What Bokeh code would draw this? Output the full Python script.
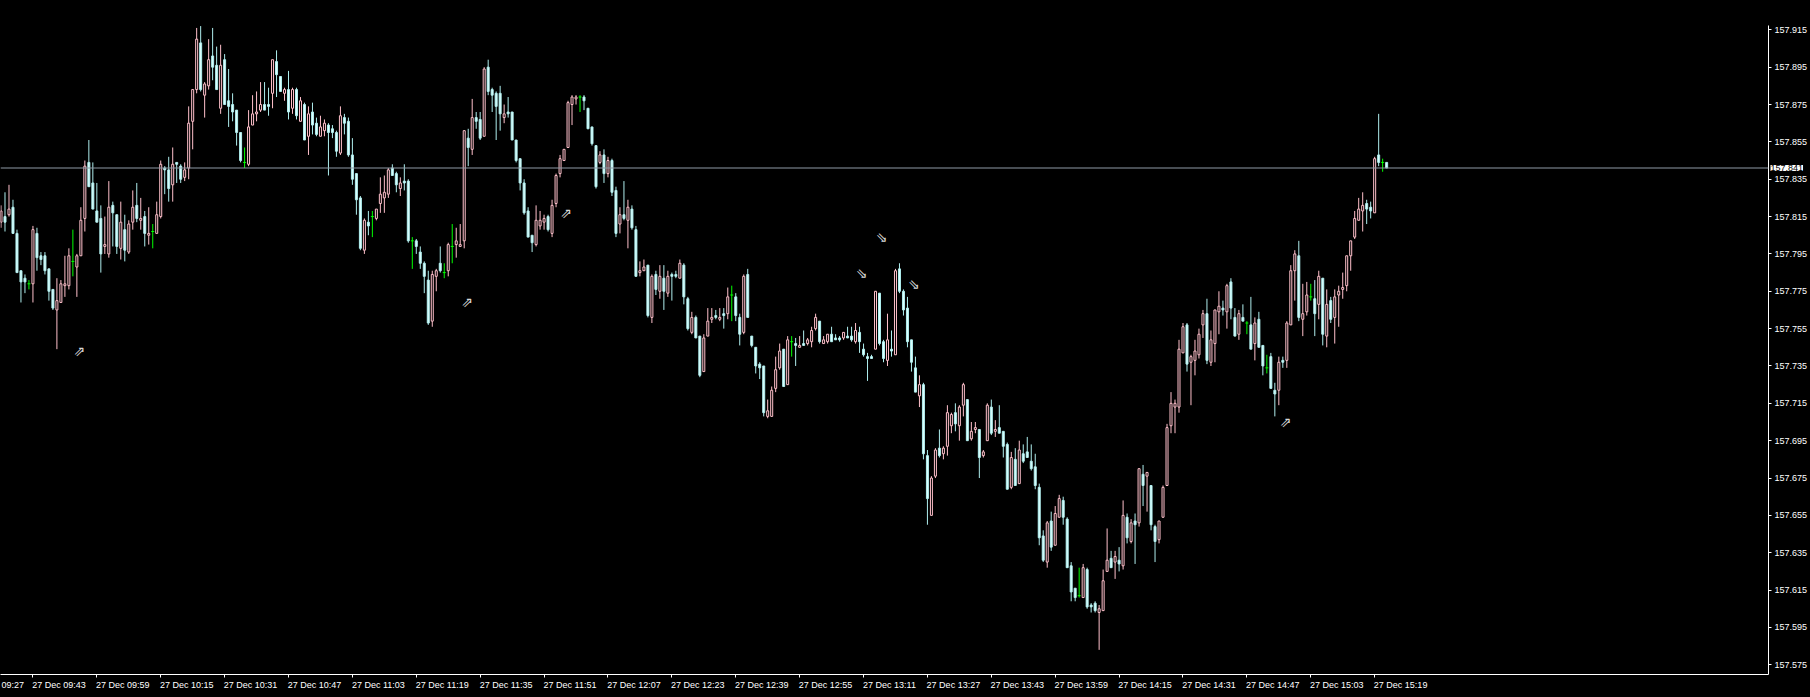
import numpy as np
from bokeh.plotting import figure
from bokeh.models import (ColumnDataSource, FixedTicker, Span, Label, NumeralTickFormatter,
                          Range1d, LinearAxis)
from bokeh.core.properties import value
from bokeh.embed import file_html
from bokeh.resources import INLINE

# ---------------- data (USDJPY M1, 27 Dec) ----------------
first_bar = "09:35"

open_ = [
    157.812, 157.815, 157.816, 157.820, 157.806, 157.786, 157.782, 157.779,
    157.779, 157.806, 157.794, 157.794, 157.787, 157.776, 157.765, 157.769, 157.778, 157.778, 157.791, 157.788,
    157.794, 157.814, 157.844, 157.833, 157.818, 157.814, 157.799, 157.795, 157.821, 157.816, 157.798, 157.808,
    157.796, 157.812, 157.821, 157.813, 157.815, 157.805, 157.807, 157.806, 157.815, 157.841, 157.840, 157.832,
    157.844, 157.842, 157.836, 157.841, 157.866, 157.883, 157.908, 157.880, 157.885, 157.901, 157.896, 157.873,
    157.899, 157.877, 157.875, 157.872, 157.860, 157.844, 157.843, 157.864, 157.870, 157.872, 157.875, 157.875,
    157.881, 157.898, 157.890, 157.881, 157.883, 157.873, 157.883, 157.866, 157.875, 157.858, 157.871, 157.865,
    157.858, 157.861, 157.864, 157.862, 157.860, 157.849, 157.868, 157.866, 157.848, 157.838, 157.825, 157.797,
    157.812, 157.815, 157.814, 157.822, 157.825, 157.827, 157.841, 157.838, 157.830, 157.834, 157.834, 157.802,
    157.802, 157.796, 157.790, 157.781, 157.759, 157.783, 157.790, 157.785, 157.786, 157.799, 157.800, 157.799,
    157.802, 157.857, 157.851, 157.868, 157.867, 157.858, 157.895, 157.883, 157.881, 157.881, 157.868, 157.871,
    157.871, 157.856, 157.846, 157.833, 157.818, 157.805, 157.800, 157.810, 157.812, 157.815, 157.806, 157.822,
    157.838, 157.845, 157.852, 157.875, 157.878, 157.879, 157.879, 157.873, 157.863, 157.853, 157.844, 157.848,
    157.838, 157.845, 157.829, 157.811, 157.816, 157.813, 157.819, 157.808, 157.785, 157.786, 157.789, 157.761,
    157.784, 157.775, 157.782, 157.774, 157.784, 157.784, 157.782, 157.789, 157.771, 157.753, 157.761, 157.751,
    157.732, 157.751, 157.760, 157.762, 157.760, 157.763, 157.763, 157.773, 157.772, 157.761, 157.753, 157.784,
    157.751, 157.745, 157.736, 157.735, 157.708, 157.708, 157.723, 157.734, 157.744, 157.725, 157.748, 157.747,
    157.745, 157.747, 157.747, 157.748, 157.755, 157.759, 157.747, 157.748, 157.752, 157.750, 157.750, 157.750,
    157.751, 157.751, 157.748, 157.753, 157.744, 157.740, 157.740, 157.744, 157.774, 157.748, 157.738, 157.744,
    157.741, 157.787, 157.775, 157.766, 157.749, 157.734, 157.719, 157.725, 157.687, 157.655, 157.676, 157.691,
    157.688, 157.692, 157.703, 157.710, 157.703, 157.714, 157.717, 157.696, 157.701, 157.701, 157.687, 157.695,
    157.713, 157.700, 157.702, 157.700, 157.693, 157.670, 157.685, 157.672, 157.688, 157.689, 157.684, 157.681,
    157.670, 157.644, 157.630, 157.652, 157.639, 157.654, 157.663, 157.653, 157.628, 157.616, 157.612, 157.611,
    157.626, 157.607, 157.608, 157.603, 157.604, 157.625, 157.632, 157.630, 157.631, 157.628, 157.654, 157.641,
    157.652, 157.651, 157.677, 157.676, 157.671, 157.649, 157.642, 157.654, 157.671, 157.703, 157.713, 157.713,
    157.742, 157.757, 157.737, 157.738, 157.741, 157.757, 157.763, 157.737, 157.747, 157.764, 157.766, 157.764,
    157.780, 157.761, 157.752, 157.761, 157.758, 157.757, 157.747, 157.760, 157.746, 157.734, 157.740, 157.722,
    157.722, 157.738, 157.738, 157.757, 157.786, 157.794, 157.760, 157.764, 157.772, 157.771, 157.768, 157.782,
    157.751, 157.770, 157.761, 157.773, 157.776, 157.778, 157.794, 157.804, 157.813, 157.818, 157.822, 157.820,
    157.817, 157.848, 157.844, 157.844,
]

high = [
    157.821, 157.828, 157.832, 157.824, 157.808, 157.786, 157.784, 157.781,
    157.810, 157.809, 157.796, 157.796, 157.787, 157.776, 157.782, 157.781, 157.794, 157.798, 157.808, 157.795,
    157.820, 157.845, 157.856, 157.844, 157.833, 157.821, 157.815, 157.834, 157.823, 157.816, 157.823, 157.816,
    157.813, 157.829, 157.833, 157.825, 157.818, 157.820, 157.811, 157.823, 157.845, 157.842, 157.847, 157.852,
    157.844, 157.843, 157.844, 157.874, 157.883, 157.916, 157.917, 157.887, 157.910, 157.916, 157.906, 157.907,
    157.902, 157.894, 157.881, 157.872, 157.860, 157.852, 157.872, 157.880, 157.882, 157.887, 157.887, 157.884,
    157.899, 157.904, 157.890, 157.884, 157.893, 157.884, 157.884, 157.879, 157.876, 157.874, 157.876, 157.868,
    157.869, 157.867, 157.865, 157.864, 157.861, 157.874, 157.870, 157.868, 157.857, 157.838, 157.826, 157.814,
    157.818, 157.818, 157.819, 157.836, 157.837, 157.841, 157.843, 157.839, 157.836, 157.843, 157.835, 157.804,
    157.803, 157.799, 157.791, 157.786, 157.786, 157.787, 157.799, 157.790, 157.801, 157.811, 157.809, 157.811,
    157.861, 157.862, 157.878, 157.871, 157.871, 157.895, 157.899, 157.884, 157.882, 157.885, 157.875, 157.879,
    157.871, 157.856, 157.846, 157.835, 157.820, 157.805, 157.821, 157.818, 157.816, 157.816, 157.824, 157.838,
    157.848, 157.851, 157.877, 157.880, 157.880, 157.880, 157.880, 157.873, 157.863, 157.853, 157.850, 157.851,
    157.847, 157.846, 157.831, 157.820, 157.834, 157.824, 157.821, 157.810, 157.791, 157.792, 157.789, 157.784,
    157.786, 157.789, 157.789, 157.786, 157.785, 157.786, 157.792, 157.790, 157.772, 157.764, 157.762, 157.751,
    157.752, 157.766, 157.766, 157.765, 157.766, 157.766, 157.777, 157.778, 157.774, 157.763, 157.784, 157.787,
    157.751, 157.745, 157.737, 157.735, 157.717, 157.724, 157.740, 157.747, 157.744, 157.751, 157.751, 157.750,
    157.751, 157.754, 157.750, 157.756, 157.763, 157.759, 157.751, 157.752, 157.756, 157.752, 157.751, 157.753,
    157.756, 157.756, 157.758, 157.756, 157.747, 157.742, 157.741, 157.775, 157.774, 157.749, 157.763, 157.754,
    157.787, 157.790, 157.776, 157.772, 157.749, 157.740, 157.730, 157.726, 157.690, 157.676, 157.691, 157.701,
    157.692, 157.714, 157.710, 157.715, 157.714, 157.726, 157.717, 157.705, 157.705, 157.701, 157.690, 157.715,
    157.717, 157.706, 157.714, 157.700, 157.694, 157.689, 157.691, 157.695, 157.693, 157.697, 157.693, 157.688,
    157.672, 157.647, 157.652, 157.657, 157.660, 157.666, 157.665, 157.654, 157.630, 157.616, 157.627, 157.629,
    157.627, 157.608, 157.609, 157.607, 157.626, 157.648, 157.636, 157.636, 157.638, 157.663, 157.656, 157.653,
    157.656, 157.680, 157.682, 157.678, 157.671, 157.650, 157.652, 157.671, 157.704, 157.721, 157.717, 157.749,
    157.758, 157.758, 157.741, 157.749, 157.755, 157.765, 157.771, 157.754, 157.765, 157.775, 157.770, 157.779,
    157.782, 157.766, 157.765, 157.768, 157.759, 157.772, 157.761, 157.764, 157.746, 157.741, 157.742, 157.726,
    157.740, 157.740, 157.759, 157.789, 157.797, 157.802, 157.779, 157.780, 157.779, 157.781, 157.786, 157.782,
    157.776, 157.772, 157.776, 157.778, 157.785, 157.794, 157.802, 157.818, 157.825, 157.828, 157.824, 157.823,
    157.847, 157.870, 157.846, 157.844,
]

low = [
    157.809, 157.807, 157.815, 157.806, 157.785, 157.769, 157.774, 157.776,
    157.769, 157.786, 157.789, 157.784, 157.770, 157.765, 157.744, 157.769, 157.772, 157.776, 157.783, 157.772,
    157.794, 157.807, 157.831, 157.819, 157.812, 157.785, 157.795, 157.793, 157.799, 157.795, 157.792, 157.791,
    157.795, 157.808, 157.812, 157.808, 157.799, 157.800, 157.798, 157.806, 157.814, 157.827, 157.823, 157.823,
    157.833, 157.833, 157.834, 157.835, 157.851, 157.881, 157.882, 157.868, 157.883, 157.888, 157.883, 157.870,
    157.875, 157.863, 157.866, 157.853, 157.844, 157.841, 157.842, 157.864, 157.866, 157.871, 157.872, 157.869,
    157.873, 157.879, 157.882, 157.877, 157.867, 157.870, 157.867, 157.866, 157.856, 157.848, 157.859, 157.858,
    157.858, 157.858, 157.837, 157.857, 157.847, 157.848, 157.859, 157.847, 157.832, 157.816, 157.797, 157.795,
    157.805, 157.804, 157.813, 157.817, 157.817, 157.825, 157.837, 157.828, 157.826, 157.829, 157.801, 157.787,
    157.795, 157.787, 157.774, 157.757, 157.756, 157.775, 157.785, 157.782, 157.783, 157.790, 157.793, 157.799,
    157.798, 157.842, 157.848, 157.862, 157.856, 157.858, 157.880, 157.871, 157.856, 157.861, 157.865, 157.868,
    157.856, 157.844, 157.829, 157.816, 157.804, 157.796, 157.799, 157.808, 157.808, 157.807, 157.804, 157.820,
    157.836, 157.845, 157.852, 157.864, 157.875, 157.871, 157.872, 157.862, 157.853, 157.830, 157.843, 157.833,
    157.836, 157.826, 157.804, 157.806, 157.813, 157.798, 157.808, 157.783, 157.783, 157.786, 157.761, 157.758,
    157.773, 157.771, 157.765, 157.772, 157.770, 157.782, 157.782, 157.768, 157.754, 157.752, 157.750, 157.729,
    157.732, 157.751, 157.758, 157.760, 157.759, 157.755, 157.760, 157.759, 157.759, 157.746, 157.752, 157.761,
    157.745, 157.731, 157.728, 157.708, 157.707, 157.708, 157.721, 157.733, 157.724, 157.725, 157.740, 157.735,
    157.745, 157.746, 157.746, 157.745, 157.754, 157.747, 157.747, 157.747, 157.748, 157.749, 157.748, 157.749,
    157.750, 157.748, 157.747, 157.742, 157.740, 157.727, 157.739, 157.744, 157.746, 157.737, 157.735, 157.740,
    157.741, 157.774, 157.762, 157.745, 157.732, 157.721, 157.713, 157.685, 157.650, 157.655, 157.675, 157.686,
    157.685, 157.687, 157.699, 157.700, 157.695, 157.708, 157.695, 157.695, 157.699, 157.675, 157.686, 157.695,
    157.698, 157.697, 157.699, 157.686, 157.669, 157.669, 157.671, 157.672, 157.683, 157.686, 157.679, 157.669,
    157.639, 157.630, 157.627, 157.636, 157.639, 157.654, 157.650, 157.627, 157.609, 157.609, 157.611, 157.611,
    157.605, 157.603, 157.603, 157.583, 157.604, 157.625, 157.627, 157.621, 157.625, 157.626, 157.640, 157.640,
    157.629, 157.649, 157.660, 157.657, 157.647, 157.630, 157.640, 157.654, 157.671, 157.699, 157.699, 157.710,
    157.742, 157.732, 157.714, 157.730, 157.739, 157.750, 157.736, 157.735, 157.737, 157.752, 157.762, 157.755,
    157.760, 157.751, 157.749, 157.759, 157.752, 157.744, 157.738, 157.745, 157.730, 157.731, 157.723, 157.708,
    157.714, 157.734, 157.734, 157.757, 157.770, 157.759, 157.751, 157.762, 157.770, 157.751, 157.760, 157.746,
    157.745, 157.758, 157.747, 157.756, 157.771, 157.775, 157.786, 157.803, 157.813, 157.807, 157.811, 157.814,
    157.817, 157.842, 157.839, 157.841,
]

close = [
    157.818, 157.812, 157.819, 157.806, 157.785, 157.780, 157.780, 157.779,
    157.808, 157.793, 157.792, 157.786, 157.775, 157.766, 157.770, 157.779, 157.779, 157.794, 157.791, 157.794,
    157.813, 157.842, 157.831, 157.819, 157.812, 157.795, 157.800, 157.820, 157.817, 157.799, 157.812, 157.797,
    157.811, 157.820, 157.814, 157.814, 157.806, 157.806, 157.807, 157.816, 157.843, 157.840, 157.830, 157.843,
    157.843, 157.835, 157.840, 157.865, 157.883, 157.910, 157.883, 157.886, 157.899, 157.895, 157.883, 157.896,
    157.875, 157.874, 157.871, 157.860, 157.845, 157.844, 157.863, 157.870, 157.871, 157.875, 157.872, 157.874,
    157.899, 157.891, 157.882, 157.883, 157.871, 157.883, 157.869, 157.877, 157.856, 157.870, 157.864, 157.859,
    157.863, 157.865, 157.860, 157.860, 157.850, 157.869, 157.865, 157.848, 157.835, 157.824, 157.798, 157.813,
    157.810, 157.815, 157.819, 157.827, 157.828, 157.840, 157.837, 157.832, 157.833, 157.833, 157.802, 157.802,
    157.799, 157.790, 157.783, 157.758, 157.784, 157.786, 157.786, 157.785, 157.800, 157.799, 157.802, 157.800,
    157.861, 157.852, 157.868, 157.866, 157.857, 157.894, 157.882, 157.880, 157.874, 157.870, 157.870, 157.870,
    157.856, 157.845, 157.833, 157.817, 157.804, 157.801, 157.813, 157.813, 157.814, 157.808, 157.821, 157.837,
    157.846, 157.851, 157.876, 157.879, 157.879, 157.879, 157.877, 157.862, 157.854, 157.831, 157.848, 157.838,
    157.845, 157.828, 157.806, 157.816, 157.814, 157.820, 157.809, 157.783, 157.786, 157.788, 157.762, 157.783,
    157.776, 157.783, 157.775, 157.783, 157.783, 157.783, 157.790, 157.772, 157.755, 157.761, 157.750, 157.730,
    157.750, 157.759, 157.761, 157.761, 157.761, 157.762, 157.772, 157.773, 157.762, 157.752, 157.783, 157.761,
    157.746, 157.735, 157.734, 157.710, 157.711, 157.722, 157.733, 157.743, 157.724, 157.749, 157.748, 157.746,
    157.746, 157.746, 157.749, 157.754, 157.761, 157.748, 157.749, 157.752, 157.748, 157.749, 157.749, 157.753,
    157.750, 157.749, 157.754, 157.748, 157.741, 157.739, 157.739, 157.775, 157.747, 157.739, 157.749, 157.743,
    157.786, 157.775, 157.765, 157.748, 157.737, 157.721, 157.725, 157.688, 157.664, 157.675, 157.690, 157.687,
    157.691, 157.710, 157.709, 157.704, 157.713, 157.725, 157.695, 157.700, 157.702, 157.686, 157.689, 157.714,
    157.699, 157.701, 157.699, 157.692, 157.669, 157.686, 157.671, 157.690, 157.684, 157.686, 157.680, 157.671,
    157.643, 157.631, 157.651, 157.638, 157.656, 157.664, 157.654, 157.627, 157.614, 157.611, 157.612, 157.627,
    157.606, 157.606, 157.604, 157.605, 157.620, 157.631, 157.627, 157.633, 157.629, 157.655, 157.643, 157.651,
    157.650, 157.680, 157.671, 157.678, 157.650, 157.641, 157.652, 157.670, 157.702, 157.715, 157.715, 157.744,
    157.756, 157.736, 157.740, 157.743, 157.752, 157.763, 157.738, 157.749, 157.765, 157.767, 157.765, 157.778,
    157.766, 157.751, 157.763, 157.759, 157.758, 157.744, 157.758, 157.745, 157.735, 157.734, 157.723, 157.720,
    157.737, 157.737, 157.758, 157.786, 157.795, 157.761, 157.763, 157.773, 157.772, 157.763, 157.783, 157.752,
    157.768, 157.760, 157.772, 157.775, 157.777, 157.794, 157.802, 157.814, 157.819, 157.821, 157.819, 157.818,
    157.846, 157.844, 157.844, 157.841,
]

# the first label is only partly inside the window: just "09:27" shows
time_labels = [
    "09:27", "27 Dec 09:43", "27 Dec 09:59", "27 Dec 10:15", "27 Dec 10:31", "27 Dec 10:47",
    "27 Dec 11:03", "27 Dec 11:19", "27 Dec 11:35", "27 Dec 11:51", "27 Dec 12:07", "27 Dec 12:23",
    "27 Dec 12:39", "27 Dec 12:55", "27 Dec 13:11", "27 Dec 13:27", "27 Dec 13:43", "27 Dec 13:59",
    "27 Dec 14:15", "27 Dec 14:31", "27 Dec 14:47", "27 Dec 15:03", "27 Dec 15:19",
]

price_ticks = [157.575, 157.595, 157.615, 157.635, 157.655, 157.675, 157.695, 157.715, 157.735,
               157.755, 157.775, 157.795, 157.815, 157.835, 157.855, 157.875, 157.895, 157.915]

arrow_times = ["09:54:36", "11:31:45", "11:56:33", "13:15:33", "13:10:33", "13:23:36", "14:56:42"]
arrow_prices = [157.743, 157.769, 157.817, 157.804, 157.785, 157.779, 157.705]
arrow_dirs = ["buy", "buy", "buy", "sell", "sell", "sell", "buy"]

# ---------------- helpers ----------------
def to_min(t):
    parts = t.split(":")
    mins = int(parts[0]) * 60 + int(parts[1])
    if len(parts) > 2:
        mins += float(parts[2]) / 60.0
    return mins

base = to_min(first_bar)
n = len(open_)
xs = np.arange(n)
o = np.array(open_); h = np.array(high); l = np.array(low); c = np.array(close)

UP = "#FFC0CB"
DN_LINE = "#AFEEEE"
DN_FILL = "#E0FFFF"
DOJI = "#00FF00"
BG = "#000000"
FG = "#FFFFFF"

wick_col = np.where(c > o, UP, np.where(c < o, DN_LINE, DOJI))
wick_src = ColumnDataSource(dict(x=xs, hi=h, lo=l, col=wick_col))

body_mask = c != o
bx = xs[body_mask]
body_src = ColumnDataSource(dict(
    x=bx,
    top=np.maximum(o, c)[body_mask],
    bottom=np.minimum(o, c)[body_mask],
    fill=np.where(c[body_mask] > o[body_mask], BG, DN_FILL),
    line=np.where(c[body_mask] > o[body_mask], UP, DN_LINE),
))

doji_mask = c == o
doji_src = ColumnDataSource(dict(
    x0=xs[doji_mask] - 0.375, x1=xs[doji_mask] + 0.375, y=o[doji_mask]))

# ---------------- figure ----------------
# a 25 px top strip holds the (unclipped) text panels
p = figure(width=1810, height=697,
           x_range=Range1d(-0.125, 442.625), y_range=Range1d(157.5698, 157.91731),
           output_backend="svg", toolbar_location=None, y_axis_location="right",
           background_fill_color=BG, border_fill_color=BG,
           min_border_left=0, min_border_top=25, min_border_right=39, min_border_bottom=23)
p.outline_line_color = None
p.grid.visible = False

last_price = close[-1]
p.add_layout(Span(location=last_price, dimension="width", line_color="#8f9aa6", line_width=1))

p.segment(x0="x", y0="lo", x1="x", y1="hi", line_color="col", line_width=1, source=wick_src)
p.vbar(x="x", width=0.5, top="top", bottom="bottom", fill_color="fill", line_color="line",
       line_width=1, source=body_src)
p.segment(x0="x0", y0="y", x1="x1", y1="y", line_color=DOJI, line_width=1, source=doji_src)

arrow_x = [to_min(t) - base for t in arrow_times]
arrow_glyph = ["\u21D7" if d == "buy" else "\u21D8" for d in arrow_dirs]
p.text(x=arrow_x, y=arrow_prices, text=arrow_glyph, text_color="#d8d8d8",
       text_font=value("DejaVu Sans"), text_font_size="14px",
       text_align="center", text_baseline="middle")

# bottom axis: tick marks at the times (labels hidden) ...
tick_pos = [to_min(s.split(" ")[-1]) - base for s in time_labels]
xa = p.xaxis[0]
xa.ticker = FixedTicker(ticks=tick_pos)
xa.major_label_overrides = {tp: "" for tp in tick_pos}
xa.major_label_standoff = 0
# ... and a second, line-less axis carrying the labels, which start at their tick
label_shift = 6.5
lab_pos = [tp + label_shift for tp in tick_pos[1:]]
xb = LinearAxis(ticker=FixedTicker(ticks=lab_pos),
                major_label_overrides={lp: lab for lp, lab in zip(lab_pos, time_labels[1:])})
xb.axis_line_color = None
xb.major_tick_line_color = None
xb.minor_tick_line_color = None
xb.major_label_standoff = -4
xb.major_label_text_color = FG
xb.major_label_text_font = "Liberation Sans"
xb.major_label_text_font_size = "9px"
p.add_layout(xb, "below")

ya = p.yaxis[0]
ya.ticker = FixedTicker(ticks=price_ticks)
ya.formatter = NumeralTickFormatter(format="0.000")
ya.major_label_standoff = 3
for ax in (xa, ya):
    ax.axis_line_color = FG
    ax.axis_line_width = 1
    ax.major_tick_line_color = FG
    ax.major_tick_out = 3
    ax.major_tick_in = 0
    ax.minor_tick_line_color = None
    ax.major_label_text_color = FG
    ax.major_label_text_font = "Liberation Sans"
xa.major_label_text_font_size = "0px"
ya.major_label_text_font_size = "9px"

# current price tag (side-panel annotation, so it is not clipped to the frame)
price_tag = Label(x=443.125, y=last_price, x_units="data", y_units="data",
                  text=f"{last_price:.3f}", text_color="black", text_font="Liberation Sans",
                  text_font_size="9px", text_baseline="middle", text_align="left",
                  background_fill_color="white")
p.add_layout(price_tag, "above")

# visible tail of the first time label (its tick lies left of the window)
y_time_row = 157.5698 - 10.5 / 1867.6
first_label = Label(x=tick_pos[0] + label_shift * 2 + 0.75, y=y_time_row,
                    x_units="data", y_units="data",
                    text=time_labels[0], text_color=FG, text_font="Liberation Sans",
                    text_font_size="9px", text_baseline="middle", text_align="right")
p.add_layout(first_label, "above")

html = file_html(p, INLINE)
html = html.replace("</head>", "<style>html,body{background:#000000;}</style></head>", 1)
open("out.html", "w").write(html)
